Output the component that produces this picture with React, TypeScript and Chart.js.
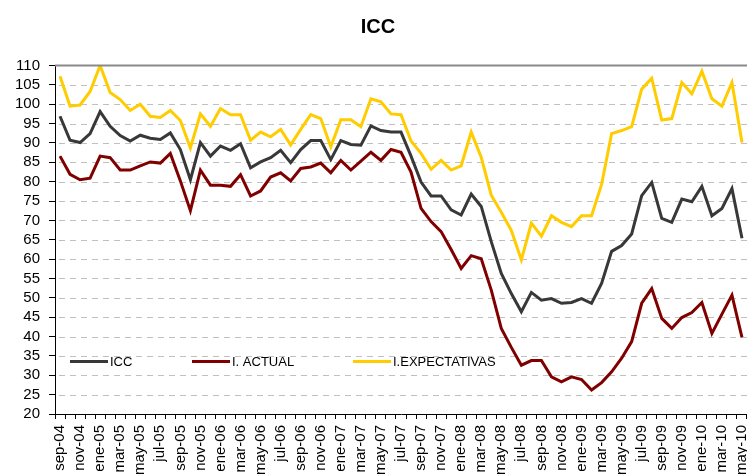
import React, { useEffect, useRef } from "react";
import { Chart, registerables } from "chart.js";

Chart.register(...registerables);

const TITLE = "ICC";

const MONTH_LABELS = [
  "sep-04", "oct-04", "nov-04", "dic-04",
  "ene-05", "feb-05", "mar-05", "abr-05", "may-05", "jun-05", "jul-05", "ago-05", "sep-05", "oct-05", "nov-05", "dic-05",
  "ene-06", "feb-06", "mar-06", "abr-06", "may-06", "jun-06", "jul-06", "ago-06", "sep-06", "oct-06", "nov-06", "dic-06",
  "ene-07", "feb-07", "mar-07", "abr-07", "may-07", "jun-07", "jul-07", "ago-07", "sep-07", "oct-07", "nov-07", "dic-07",
  "ene-08", "feb-08", "mar-08", "abr-08", "may-08", "jun-08", "jul-08", "ago-08", "sep-08", "oct-08", "nov-08", "dic-08",
  "ene-09", "feb-09", "mar-09", "abr-09", "may-09", "jun-09", "jul-09", "ago-09", "sep-09", "oct-09", "nov-09", "dic-09",
  "ene-10", "feb-10", "mar-10", "abr-10", "may-10",
];

const ICC = [
  96.9, 90.7, 90.1, 92.4, 98.1, 94.3, 91.9, 90.5, 92.0, 91.2, 90.9, 92.6, 88.3, 80.5, 90.1, 86.6,
  89.2, 88.1, 89.8, 83.6, 85.1, 86.2, 88.1, 84.9, 88.3, 90.6, 90.6, 85.7, 90.6, 89.6, 89.4, 94.4,
  93.2, 92.8, 92.8, 86.6, 79.9, 76.3, 76.3, 72.7, 71.4, 76.8, 73.6, 64.5, 56.3, 51.1, 46.4, 51.4,
  49.4, 49.8, 48.6, 48.8, 49.8, 48.6, 53.7, 62.0, 63.5, 66.5, 76.4, 79.8, 70.5, 69.5, 75.5, 74.8,
  78.8, 71.2, 73.1, 78.2, 65.4,
];

const ACTUAL = [
  86.6, 81.9, 80.5, 80.9, 86.6, 86.2, 83.0, 83.0, 84.1, 85.1, 84.8, 87.3, 80.2, 72.5, 83.0, 79.1,
  79.1, 78.8, 81.8, 76.3, 77.6, 81.2, 82.3, 80.2, 83.4, 83.8, 84.8, 82.3, 85.5, 83.0, 85.3, 87.6,
  85.5, 88.3, 87.6, 82.5, 73.1, 69.7, 67.1, 62.5, 57.6, 60.9, 60.1, 52.0, 42.1, 37.2, 32.6, 33.8,
  33.8, 29.6, 28.3, 29.6, 28.9, 26.2, 28.1, 30.9, 34.4, 38.7, 48.6, 52.4, 44.7, 42.1, 44.9, 46.2,
  48.8, 40.8, 45.8, 50.7, 39.8,
];

const EXPECTATIVAS = [
  107.2, 99.5, 99.8, 103.3, 110.0, 103.0, 101.2, 98.4, 100.0, 96.9, 96.6, 98.4, 95.8, 88.7, 97.5, 94.3,
  98.9, 97.3, 97.3, 90.7, 92.8, 91.6, 93.5, 89.5, 93.5, 97.3, 96.3, 89.0, 96.0, 96.0, 94.2, 101.4,
  100.6, 97.5, 97.3, 90.5, 87.3, 83.2, 85.5, 83.0, 84.1, 92.8, 86.3, 76.5, 72.1, 67.4, 59.8, 69.3,
  65.9, 71.2, 69.5, 68.4, 71.2, 71.2, 79.3, 92.4, 93.2, 94.2, 103.9, 106.7, 95.9, 96.3, 105.6, 102.7,
  108.5, 101.4, 99.5, 105.6, 90.1,
];

const SERIES_NAMES = ["ICC", "I. ACTUAL", "I.EXPECTATIVAS"];
const SERIES_COLORS = ["#383838", "#800000", "#FFCC00"];

const Y_MIN = 20;
const Y_MAX = 110;
const Y_STEP = 5;

const FONT = "'Liberation Sans', Arial, sans-serif";

export default function App() {
  const ref = useRef<HTMLCanvasElement | null>(null);

  useEffect(() => {
    document.body.style.margin = "0";
    const canvas = ref.current;
    if (!canvas) return;

    const dashedGrid = {
      id: "dashedGrid",
      beforeDatasetsDraw(chart: any) {
        const { ctx, chartArea } = chart;
        const yScale = chart.scales.y;
        ctx.save();
        ctx.strokeStyle = "#c0c0c0";
        ctx.lineWidth = 1;
        ctx.setLineDash([6, 5]);
        yScale.ticks.forEach((t: any) => {
          if (t.value <= Y_MIN || t.value >= Y_MAX) return;
          const y = Math.round(yScale.getPixelForValue(t.value)) + 0.5;
          ctx.beginPath();
          ctx.moveTo(chartArea.left + 4, y);
          ctx.lineTo(chartArea.right + 30, y);
          ctx.stroke();
        });
        ctx.restore();
      },
    };

    const decorations = {
      id: "decorations",
      afterDraw(chart: any) {
        const { ctx, chartArea } = chart;
        ctx.save();
        ctx.strokeStyle = "#8a8a8a";
        ctx.lineWidth = 2;
        ctx.beginPath();
        ctx.moveTo(chartArea.left, chartArea.top);
        ctx.lineTo(chartArea.right + 30, chartArea.top);
        ctx.stroke();
        ctx.fillStyle = "#000";
        ctx.font = `bold 20px ${FONT}`;
        ctx.textAlign = "center";
        ctx.textBaseline = "alphabetic";
        ctx.fillText(TITLE, 378, 33);
        ctx.restore();
      },
    };

    const customLegend = {
      id: "customLegend",
      afterDatasetsDraw(chart: any) {
        const { ctx, chartArea } = chart;
        const y = Math.round(chart.scales.y.getPixelForValue(33.8)) + 0.5;
        const offsets = [15, 137, 298];
        ctx.save();
        ctx.font = `13px ${FONT}`;
        ctx.textBaseline = "middle";
        ctx.fillStyle = "#000";
        SERIES_NAMES.forEach((name, i) => {
          const x0 = chartArea.left + offsets[i];
          ctx.strokeStyle = SERIES_COLORS[i];
          ctx.lineWidth = 3;
          ctx.beginPath();
          ctx.moveTo(x0, y);
          ctx.lineTo(x0 + 38, y);
          ctx.stroke();
          ctx.fillText(name, x0 + 40, y + 1);
        });
        ctx.restore();
      },
    };

    const chart = new Chart(canvas, {
      type: "line",
      data: {
        labels: MONTH_LABELS,
        datasets: [
          { label: SERIES_NAMES[0], data: ICC, borderColor: SERIES_COLORS[0], backgroundColor: SERIES_COLORS[0] },
          { label: SERIES_NAMES[1], data: ACTUAL, borderColor: SERIES_COLORS[1], backgroundColor: SERIES_COLORS[1] },
          { label: SERIES_NAMES[2], data: EXPECTATIVAS, borderColor: SERIES_COLORS[2], backgroundColor: SERIES_COLORS[2] },
        ].map((d) => ({ ...d, borderWidth: 3, pointRadius: 0, tension: 0, fill: false })),
      },
      options: {
        responsive: false,
        animation: false,
        devicePixelRatio: 1,
        layout: { padding: { left: 0, right: 28, top: 65.5, bottom: 0 } },
        plugins: {
          legend: { display: false },
          tooltip: { enabled: false },
          title: { display: false },
        },
        scales: {
          x: {
            type: "category",
            offset: true,
            grid: {
              display: true,
              drawOnChartArea: false,
              drawTicks: true,
              tickLength: 5,
              tickColor: "#000",
              offset: true,
            },
            border: { display: true, color: "#000", width: 1 },
            ticks: {
              autoSkip: false,
              minRotation: 90,
              maxRotation: 90,
              padding: 6,
              color: "#000",
              font: { family: FONT, size: 15 },
              callback: (_v: any, i: number) => (i % 2 === 0 ? MONTH_LABELS[i] : ""),
            },
            afterFit: (s: any) => {
              s.height = 60;
            },
          },
          y: {
            min: Y_MIN,
            max: Y_MAX,
            grid: {
              drawOnChartArea: false,
              drawTicks: true,
              tickLength: 6,
              tickColor: "#000",
            },
            border: { display: true, color: "#000", width: 1 },
            ticks: {
              stepSize: Y_STEP,
              autoSkip: false,
              maxTicksLimit: 100,
              padding: 9,
              color: "#000",
              font: { family: FONT, size: 15 },
            },
            afterFit: (s: any) => {
              s.width = 55;
            },
          },
        },
      },
      plugins: [dashedGrid, decorations, customLegend],
    });

    return () => chart.destroy();
  }, []);

  return (
    <div style={{ width: 747, height: 474, overflow: "hidden", position: "relative", background: "#fff" }}>
      <canvas ref={ref} width={775} height={474} style={{ display: "block" }} />
    </div>
  );
}
